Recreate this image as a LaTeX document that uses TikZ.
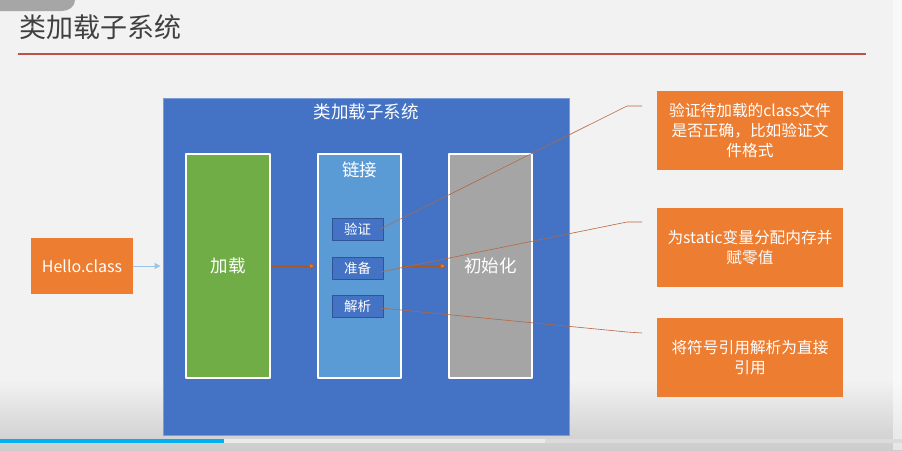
\documentclass[tikz,border=0pt]{standalone}
\usepackage{fontspec}
\setmainfont{Noto Sans CJK SC}
\usetikzlibrary{arrows.meta}
\definecolor{bgc}{HTML}{F2F2F2}
\definecolor{blobc}{HTML}{A6A6A6}
\definecolor{titlec}{HTML}{404040}
\definecolor{rulec}{HTML}{C0504D}
\definecolor{blueA}{HTML}{4472C4}
\definecolor{blueB}{HTML}{2F5597}
\definecolor{blueL}{HTML}{5B9BD5}
\definecolor{greenA}{HTML}{70AD47}
\definecolor{grayA}{HTML}{A5A5A5}
\definecolor{orangeA}{HTML}{ED7D31}
\definecolor{linkc}{HTML}{B8673D}
\definecolor{arrowb}{HTML}{9DC3E6}
\definecolor{barc}{HTML}{00B0F0}
\begin{document}
\begin{tikzpicture}[x=1pt,y=-1pt,>={Triangle[length=6pt,width=6pt]},line join=round,
  stage/.style={draw=white,line width=1.2pt,minimum width=84,minimum height=224,inner sep=0pt,text=white,font=\fontsize{17.5}{21}\selectfont},
  substep/.style={draw=blueB,fill=blueA,line width=.8pt,minimum width=51,minimum height=22,inner sep=0pt,text=white,font=\fontsize{13.5}{16}\selectfont},
  note/.style={fill=orangeA,minimum width=186,minimum height=79,inner sep=0pt,text=white,align=center,font=\fontsize{15.7}{20}\selectfont},
  flow/.style={-{Triangle[length=6pt,width=6pt,fill=orangeA]},draw=orangeA!70!black,line width=.6pt,shorten >=2pt},
  callout/.style={draw=linkc,line width=.6pt}]
\useasboundingbox (0,0) rectangle (902,450);
\fill[bgc] (0,0) rectangle (902,450);
\shade[top color=bgc,bottom color=black!20] (0,380) rectangle (902,450);
\fill[white,opacity=.5] (893,0) rectangle (902,450);
\fill[blobc] (0,0)--(75,0) to[out=-90,in=0] (62,11)--(0,11)--cycle;
	\fill[barc] (0,439) rectangle (224,443);
	\fill[black!8] (224,439) rectangle (545,443);
	\fill[black!14] (545,439) rectangle (902,443);
	\node[anchor=west,text=titlec,font=\fontsize{27}{32}\selectfont,inner sep=0pt] (title) at (19,27) {类加载子系统};
	\draw[rulec,line width=2pt] (18,54)--(866,54);
	\node[draw=blueA!70!white,fill=blueA,line width=.8pt,minimum width=406,minimum height=337,inner sep=0pt] (cls) at (366,266.5) {};
	\node[text=white,font=\fontsize{17.5}{21}\selectfont] (clst) at (366,112) {类加载子系统};
	\node[stage,fill=greenA] (jz) at (228,266) {加载};
	\node[stage,fill=blueL,minimum width=83] (lj) at (359.5,266) {};
	\node[text=white,font=\fontsize{17.5}{21}\selectfont] (ljt) at (359.5,170) {链接};
	\node[stage,fill=grayA,minimum width=83] (csh) at (490.5,266) {初始化};
	\node[substep] (yz) at (357.5,229) {验证};
	\node[substep] (zb) at (357.5,268) {准备};
	\node[substep] (jx) at (357.5,306) {解析};
	\node[fill=orangeA,minimum width=102,minimum height=56,inner sep=0pt,text=white,font=\fontsize{16}{19}\selectfont] (hello) at (82,266) {Hello.class};
	\node[note] (n1) at (750,130.5) {验证待加载的class文件\\是否正确，比如验证文\\件格式};
	\node[note] (n2) at (750,247.5) {为static变量分配内存并\\赋零值};
	\node[note] (n3) at (750,357.5) {将符号引用解析为直接\\引用};
	\draw[->,arrowb,line width=.8pt,shorten >=2pt] (hello)--(cls.west|-hello);
	\draw[flow] (jz)--(lj);
	\draw[flow] (lj)--(csh);
	\coordinate (k1) at (627,106);
	\coordinate (k2) at (627,222);
	\coordinate (k3) at (627,332);
	\draw[callout] ([xshift=-3pt]yz.east)--(k1)--++(15,0);
	\draw[callout] ([xshift=-3pt,yshift=-4pt]zb.east)--(k2)--++(15,0);
	\draw[callout] ([xshift=-3pt,yshift=-2pt]jx.east)--(k3)--++(15,1);
\end{tikzpicture}
\end{document}
